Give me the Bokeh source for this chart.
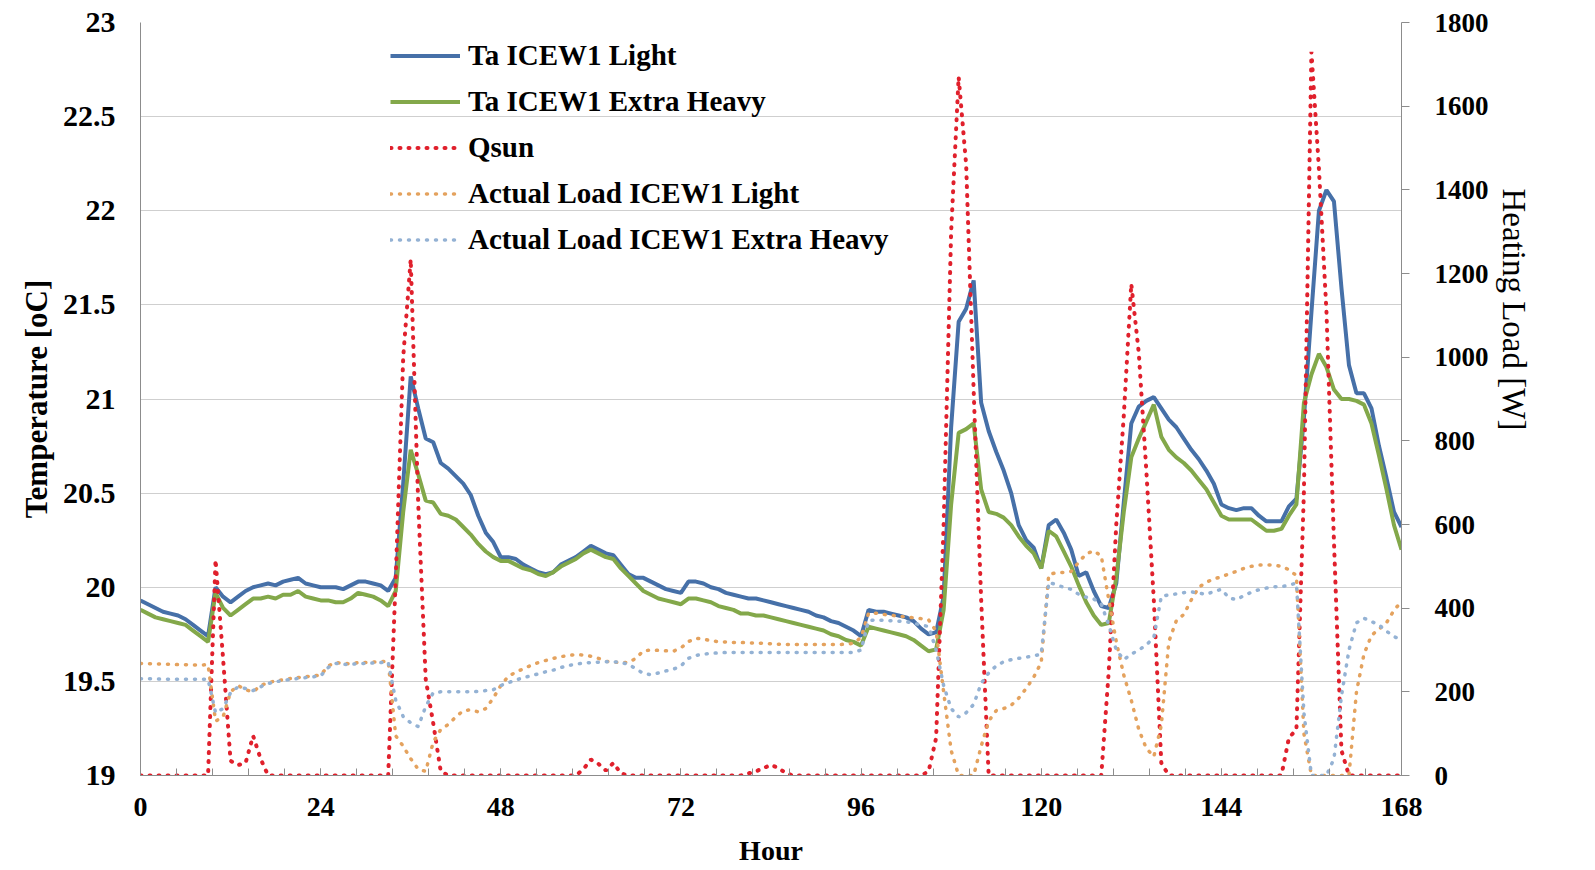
from bokeh.plotting import figure
from bokeh.models import (Range1d, LinearAxis, FixedTicker, NumeralTickFormatter,
                          Legend, LegendItem, Title)
from bokeh.embed import file_html
from bokeh.resources import INLINE

# ---------------- data (hourly, 0..168) ----------------
hours = list(range(169))

ta_light = [
    19.93, 19.91, 19.89, 19.87, 19.86, 19.85, 19.83, 19.80, 19.77, 19.74,
    20.00, 19.95, 19.92, 19.95, 19.98, 20.00, 20.01, 20.02, 20.01, 20.03,
    20.04, 20.05, 20.02, 20.01, 20.00, 20.00, 20.00, 19.99, 20.01, 20.03,
    20.03, 20.02, 20.01, 19.98, 20.05, 20.55, 21.12, 20.95, 20.79, 20.77,
    20.66, 20.63, 20.59, 20.55, 20.49, 20.38, 20.29, 20.24, 20.16, 20.16,
    20.15, 20.12, 20.10, 20.08, 20.07, 20.08, 20.12, 20.14, 20.16, 20.19,
    20.22, 20.20, 20.18, 20.17, 20.12, 20.07, 20.05, 20.05, 20.03, 20.01,
    19.99, 19.98, 19.97, 20.03, 20.03, 20.02, 20.00, 19.99, 19.97, 19.96,
    19.95, 19.94, 19.94, 19.93, 19.92, 19.91, 19.90, 19.89, 19.88, 19.87,
    19.85, 19.84, 19.82, 19.81, 19.79, 19.77, 19.74, 19.88, 19.87, 19.87,
    19.86, 19.85, 19.84, 19.82, 19.78, 19.75, 19.76, 19.95, 20.85, 21.41,
    21.48, 21.63, 20.98, 20.83, 20.72, 20.62, 20.50, 20.33, 20.25, 20.21,
    20.10, 20.33, 20.36, 20.29, 20.20, 20.06, 20.08, 19.98, 19.90, 19.89,
    20.02, 20.45, 20.87, 20.96, 20.99, 21.01, 20.95, 20.89, 20.85, 20.79,
    20.73, 20.68, 20.62, 20.55, 20.44, 20.42, 20.41, 20.42, 20.42, 20.38,
    20.35, 20.35, 20.35, 20.43, 20.47, 20.90, 21.46, 22.00, 22.11, 22.05,
    21.59, 21.18, 21.03, 21.03, 20.95, 20.75, 20.58, 20.40, 20.32,
]

ta_xheavy = [
    19.88, 19.86, 19.84, 19.83, 19.82, 19.81, 19.80, 19.77, 19.74, 19.71,
    19.97, 19.89, 19.85, 19.88, 19.91, 19.94, 19.94, 19.95, 19.94, 19.96,
    19.96, 19.98, 19.95, 19.94, 19.93, 19.93, 19.92, 19.92, 19.94, 19.97,
    19.96, 19.95, 19.93, 19.90, 19.98, 20.40, 20.73, 20.60, 20.46, 20.45,
    20.39, 20.38, 20.36, 20.32, 20.28, 20.23, 20.19, 20.16, 20.14, 20.14,
    20.12, 20.10, 20.09, 20.07, 20.06, 20.08, 20.11, 20.13, 20.15, 20.18,
    20.20, 20.18, 20.16, 20.15, 20.10, 20.06, 20.02, 19.98, 19.96, 19.94,
    19.93, 19.92, 19.91, 19.94, 19.94, 19.93, 19.92, 19.90, 19.89, 19.88,
    19.86, 19.86, 19.85, 19.85, 19.84, 19.83, 19.82, 19.81, 19.80, 19.79,
    19.78, 19.77, 19.75, 19.74, 19.72, 19.71, 19.69, 19.79, 19.78, 19.77,
    19.76, 19.75, 19.74, 19.72, 19.69, 19.66, 19.67, 19.88, 20.44, 20.82,
    20.84, 20.87, 20.52, 20.40, 20.39, 20.37, 20.33, 20.27, 20.22, 20.18,
    20.10, 20.30, 20.27, 20.19, 20.11, 20.01, 19.92, 19.85, 19.80, 19.81,
    20.05, 20.40, 20.69, 20.79, 20.88, 20.97, 20.80, 20.73, 20.69, 20.66,
    20.62, 20.57, 20.52, 20.45, 20.38, 20.36, 20.36, 20.36, 20.36, 20.33,
    20.30, 20.30, 20.31, 20.38, 20.44, 20.98, 21.13, 21.24, 21.17, 21.05,
    21.00, 21.00, 20.99, 20.97, 20.87, 20.70, 20.52, 20.33, 20.20,
]

qsun = [
    0, 0, 0, 0, 0, 0, 0, 0, 0, 0,
    516, 280, 35, 25, 30, 95, 40, 0, 0, 0,
    0, 0, 0, 0, 0, 0, 0, 0, 0, 0,
    0, 0, 0, 0, 470, 1000, 1234, 650, 230, 125,
    10, 0, 0, 0, 0, 0, 0, 0, 0, 0,
    0, 0, 0, 0, 0, 0, 0, 0, 0, 15,
    38, 28, 12, 30, 5, 0, 0, 0, 0, 0,
    0, 0, 0, 0, 0, 0, 0, 0, 0, 0,
    0, 5, 10, 18, 25, 18, 5, 0, 0, 0,
    0, 0, 0, 0, 0, 0, 0, 0, 0, 0,
    0, 0, 0, 0, 0, 10, 90, 600, 1300, 1670,
    1460, 920, 420, 0, 0, 0, 0, 0, 0, 0,
    0, 0, 0, 0, 0, 0, 0, 0, 0, 250,
    600, 860, 1175, 1010, 730, 420, 30, 0, 0, 0,
    0, 0, 0, 0, 0, 0, 0, 0, 0, 0,
    0, 0, 0, 90, 110, 680, 1730, 1450, 1110, 560,
    60, 0, 0, 0, 0, 0, 0, 0, 0,
]

load_light = [
    268, 267, 267, 266, 266, 265, 265, 264, 264, 265,
    130, 140, 200, 215, 205, 200, 215, 222, 226, 229,
    232, 234, 236, 238, 240, 262, 270, 268, 267, 270,
    270, 271, 272, 273, 95, 70, 40, 15, 10, 80,
    110, 122, 140, 155, 157, 152, 160, 185, 215, 237,
    247, 255, 263, 270, 275, 280, 284, 287, 289, 288,
    285, 280, 273, 271, 270, 270, 280, 298, 300, 299,
    298, 297, 305, 320, 328, 326, 322, 320, 319, 318,
    318, 317, 317, 316, 315, 314, 313, 313, 313, 313,
    313, 313, 313, 313, 314, 316, 330, 388, 388, 385,
    383, 381, 379, 377, 375, 372, 345, 200, 60, 0,
    0, 0, 70, 130, 155, 160, 168, 185, 208, 235,
    270, 480, 485, 485, 488, 510, 530, 537, 525, 420,
    320, 240, 180, 110, 65, 45, 120, 320, 370, 385,
    420, 450, 462, 470, 475, 482, 488, 495, 500, 503,
    503, 503, 500, 492, 478, 100, 0, 0, 0, 0,
    0, 0, 200, 290, 335, 350, 365, 395, 416,
]

load_xheavy = [
    231, 231, 231, 230, 230, 230, 230, 230, 230, 230,
    150, 160, 198, 212, 208, 203, 212, 220, 224, 227,
    230, 232, 234, 236, 238, 258, 268, 266, 265, 268,
    268, 269, 270, 271, 180, 141, 126, 117, 165, 198,
    200, 200, 200, 200, 200, 201, 203, 205, 215, 222,
    228, 234, 238, 243, 248, 252, 258, 263, 266, 269,
    270, 271, 272, 272, 270, 266, 255, 244, 241, 245,
    250, 254, 262, 280, 287, 290, 292, 293, 294, 294,
    294, 294, 294, 294, 294, 294, 294, 294, 294, 294,
    294, 294, 294, 294, 294, 294, 300, 370, 372, 371,
    370, 369, 368, 364, 360, 356, 300, 215, 160, 140,
    150, 170, 220, 245, 262, 272, 277, 280, 283, 286,
    290, 462, 456, 450, 445, 433, 426, 422, 410, 360,
    300, 277, 290, 300, 312, 330, 428, 432, 434, 437,
    439, 436, 433, 440, 445, 425, 420, 430, 438, 444,
    448, 451, 451, 455, 460, 150, 0, 0, 0, 40,
    190, 300, 365, 376, 368, 360, 345, 332, 324,
]

temp_ticks = [19, 19.5, 20, 20.5, 21, 21.5, 22, 22.5, 23]
load_ticks = [0, 200, 400, 600, 800, 1000, 1200, 1400, 1600, 1800]
hour_ticks = [0, 24, 48, 72, 96, 120, 144, 168]
hour_minor = [i * 24 / 5 for i in range(36)]

series_names = ["Ta ICEW1 Light", "Ta ICEW1 Extra Heavy", "Qsun",
                "Actual Load ICEW1 Light", "Actual Load ICEW1 Extra Heavy"]

FONT = "Liberation Serif"
AXIS_GREY = "#8c8c8c"

# ---------------- figure ----------------
p = figure(width=1591, height=868,
           min_border_left=140, min_border_right=190,
           min_border_top=22, min_border_bottom=92,
           x_range=Range1d(0, 168), y_range=Range1d(19, 23),
           output_backend="svg", toolbar_location=None)
p.extra_y_ranges = {"load": Range1d(0, 1800)}
p.outline_line_color = None
p.background_fill_color = "white"
p.border_fill_color = "white"

# grid
p.xgrid.visible = False
p.ygrid.grid_line_color = "#cfcfcf"
p.ygrid.grid_line_width = 1

# left axis
la = p.yaxis[0]
la.ticker = FixedTicker(ticks=temp_ticks)
la.formatter = NumeralTickFormatter(format="0.[0]")
la.major_tick_in = 0
la.major_tick_out = 0
la.minor_tick_line_color = None
la.axis_line_color = AXIS_GREY
la.major_label_standoff = 25
la.major_label_text_font = FONT
la.major_label_text_font_style = "bold"
la.major_label_text_font_size = "30px"
la.major_label_text_color = "black"
la.axis_label = "Temperature [oC]"
la.axis_label_text_font = FONT
la.axis_label_text_font_style = "bold"
la.axis_label_text_font_size = "31px"
la.axis_label_text_color = "black"
la.axis_label_standoff = 6

# bottom axis
ba = p.xaxis[0]
ba.ticker = FixedTicker(ticks=hour_ticks, minor_ticks=hour_minor)
ba.major_tick_in = 7
ba.major_tick_out = 0
ba.minor_tick_in = 7
ba.minor_tick_out = 0
ba.major_tick_line_color = AXIS_GREY
ba.minor_tick_line_color = AXIS_GREY
ba.axis_line_color = AXIS_GREY
ba.major_label_standoff = 22
ba.major_label_text_font = FONT
ba.major_label_text_font_style = "bold"
ba.major_label_text_font_size = "28px"
ba.major_label_text_color = "black"
ba.axis_label = "Hour"
ba.axis_label_text_font = FONT
ba.axis_label_text_font_style = "bold"
ba.axis_label_text_font_size = "28px"
ba.axis_label_text_color = "black"
ba.axis_label_text_line_height = 0.8
ba.axis_label_standoff = 16

# right axis
ra = LinearAxis(y_range_name="load", ticker=FixedTicker(ticks=load_ticks))
ra.major_tick_in = 0
ra.major_tick_out = 8
ra.major_tick_line_color = AXIS_GREY
ra.minor_tick_line_color = None
ra.axis_line_color = AXIS_GREY
ra.major_label_standoff = 25
ra.major_label_text_font = FONT
ra.major_label_text_font_style = "bold"
ra.major_label_text_font_size = "27px"
ra.major_label_text_color = "black"
p.add_layout(ra, "right")

# right axis title (upper part of the side, reading top to bottom)
rt = Title(text="Heating Load [W]", align="left", offset=166, standoff=9,
           text_font=FONT, text_font_style="normal", text_font_size="33px",
           text_color="black")
p.add_layout(rt, "right")

# ---------------- series ----------------
r1 = p.line(hours, ta_light, line_color="#4670a8", line_width=4)
r2 = p.line(hours, ta_xheavy, line_color="#83a84a", line_width=4)
r3 = p.line(hours, qsun, y_range_name="load", line_color="#e0202c",
            line_width=4, line_dash="1 8", line_cap="round")
r4 = p.line(hours, load_light, y_range_name="load", line_color="#e4a25e",
            line_width=3.5, line_dash="1 8", line_cap="round")
r5 = p.line(hours, load_xheavy, y_range_name="load", line_color="#94b2d4",
            line_width=3.5, line_dash="1 8", line_cap="round")

legend = Legend(items=[LegendItem(label=n, renderers=[r])
                       for n, r in zip(series_names, [r1, r2, r3, r4, r5])],
                location=(250, 519))
legend.background_fill_alpha = 0
legend.border_line_color = None
legend.padding = 0
legend.margin = 0
legend.spacing = 13
legend.glyph_width = 70
legend.glyph_height = 33
legend.label_height = 33
legend.label_standoff = 8
legend.label_text_font = FONT
legend.label_text_font_style = "bold"
legend.label_text_font_size = "29px"
legend.label_text_color = "black"
p.add_layout(legend)

open("out.html", "w").write(file_html(p, INLINE))
